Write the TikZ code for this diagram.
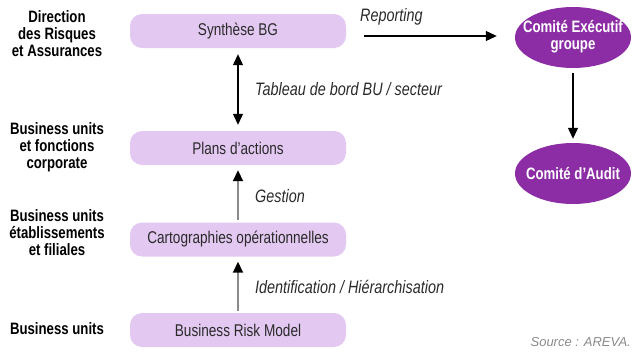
\documentclass[tikz,border=0pt]{standalone}
\usepackage{fontspec}
\setmainfont{Liberation Sans}[FakeStretch=0.8]
\newfontfamily\plainsans{Liberation Sans}
\usetikzlibrary{arrows.meta,shapes.geometric}
\definecolor{boxfill}{HTML}{E3C9F1}
\definecolor{ellfill}{HTML}{8C2DA5}
\definecolor{shaftgray}{HTML}{8A8A8A}
\definecolor{boxtext}{HTML}{2A2A2A}
\tikzset{
  stagebox/.style={draw=none, fill=boxfill, rounded corners=12pt, minimum width=216pt, minimum height=34pt, inner sep=0pt, font=\fontsize{17}{19}\selectfont, text=boxtext},
  comite/.style={ellipse, fill=ellfill, minimum width=116pt, minimum height=61pt, inner sep=0pt},
  comitetext/.style={text=white, font=\bfseries\fontsize{16.5}{17}\selectfont, align=center, inner sep=0pt},
  levellabel/.style={font=\bfseries\fontsize{16.5}{17}\selectfont, align=center, inner sep=0pt},
  flowlabel/.style={font=\itshape\fontsize{18}{20}\selectfont, anchor=west, inner sep=0pt, text=boxtext},
  tip/.style={-{Triangle[width=10pt,length=11pt]}},
  blackarrow/.style={tip, line width=1.2pt, black},
  grayarrow/.style={-{Triangle[width=10pt,length=11pt,color=black]}, line width=1.8pt, shaftgray},
}
\begin{document}
\begin{tikzpicture}[x=1pt,y=-1pt]
\useasboundingbox (0,0) rectangle (632,351);
% boxes
\node[stagebox] (synth) at (238,31) {Synthèse BG};
\node[stagebox] (plans) at (238,148) {Plans d’actions};
\node[stagebox] (carto) at (238,239.5) {Cartographies opérationnelles};
\node[stagebox] (brm) at (238,330) {Business Risk Model};
% ellipses
\node[comite] (exec) at (573,37.5) {};
\node[comitetext] (exectext) at ([yshift=1pt]exec.center) {Comité Exécutif\\groupe};
\node[comite] (audit) at (573,173.5) {};
\node[comitetext] (audittext) at (audit.center) {Comité d’Audit};
% level labels
\node[levellabel] (l1) at (57,34) {Direction\\des Risques\\et Assurances};
\node[levellabel] (l2) at (57,147) {Business units\\et fonctions\\corporate};
\node[levellabel] (l3) at (57,233) {Business units\\établissements\\et filiales};
\node[levellabel] (l4) at (57,329) {Business units};
% flow labels
\node[flowlabel] (rep) at (360,17) {Reporting};
\node[flowlabel] (tab) at (255,89) {Tableau de bord BU / secteur};
\node[flowlabel] (ges) at (255,196) {Gestion};
\node[flowlabel] (ide) at (255,287) {Identification / Hiérarchisation};
\node[anchor=east, inner sep=0pt, text=shaftgray, font=\plainsans\itshape\fontsize{13}{15}\selectfont] (src) at (631,342) {Source : AREVA.};
% connectors
\draw[blackarrow, {Triangle[width=10pt,length=11pt]}-{Triangle[width=10pt,length=11pt]}, shorten <=6pt, shorten >=6pt] (synth.south) -- (plans.north);
\draw[grayarrow, shorten <=2pt, shorten >=5pt] (carto.north) -- (plans.south);
\draw[grayarrow, shorten <=2pt, shorten >=5pt] (brm.north) -- (carto.south);
\draw[blackarrow] ([xshift=18pt]synth.east |- 0,36) -- ([xshift=-18pt]exec.west |- 0,36);
\draw[blackarrow, shorten <=5pt, shorten >=4pt] (exec.south) -- (audit.north);
\end{tikzpicture}
\end{document}
